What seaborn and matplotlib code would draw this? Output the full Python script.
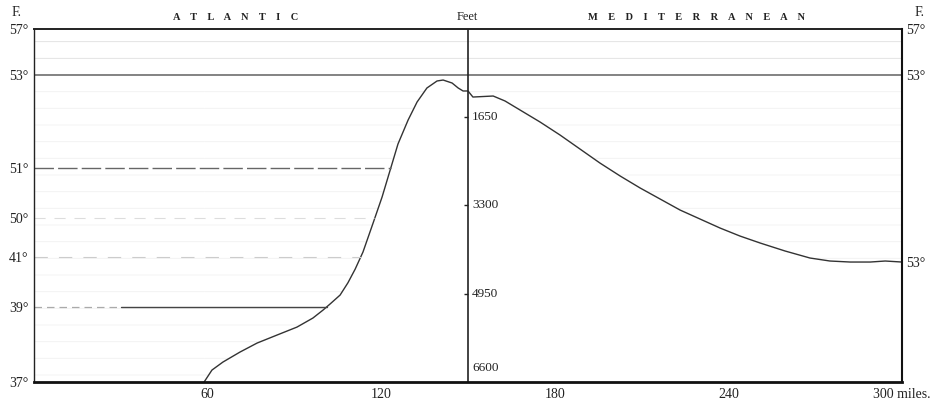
import numpy as np
import pandas as pd
import matplotlib
matplotlib.use("Agg")
import matplotlib.pyplot as plt
import seaborn as sns

# ---- data ----
profile_miles = [58.8, 61.5, 65.3, 71.2, 77.1, 84.0, 90.9, 96.4, 99.9, 102.3, 105.8,
                 108.5, 111.0, 113.7, 117.2, 120.3, 123.1, 125.8, 129.3, 132.4,
                 135.8, 139.3, 141.4, 144.5, 146.6, 148.3, 150.0,
                 151.7, 158.7, 162.8, 168.0, 174.9, 181.8, 188.7, 195.6, 202.6,
                 209.5, 216.4, 223.3, 230.2, 237.1, 244.0, 251.0, 259.6, 268.2,
                 275.1, 282.1, 289.0, 294.2, 300.0]
profile_feet = [6600, 6377, 6227, 6040, 5872, 5722, 5573, 5404, 5255, 5143, 4974,
                4745, 4490, 4170, 3628, 3142, 2637, 2150, 1702, 1365,
                1103, 972, 954, 1010, 1103, 1159, 1159,
                1272, 1253, 1346, 1515, 1739, 1982, 2244, 2506, 2749,
                2973, 3179, 3385, 3553, 3721, 3871, 4002, 4151, 4282,
                4338, 4357, 4357, 4338, 4357]

left_temp_depths = [0, 860, 2600, 3534, 4264, 5199, 6600]
left_temp_labels = ["57°", "53°", "51°", "50°", "41°", "39°", "37°"]
right_temp_depths = [0, 860, 4357]
right_temp_labels = ["57°", "53°", "53°"]

feet_values = [1650, 3300, 4950, 6600]
feet_labels = ["1650", "3300", "4950", "6600"]

mile_ticks = [60, 120, 180, 240, 300]
mile_labels = ["60", "120", "180", "240", "300 miles."]

strait_mile = 150
max_miles = 300
max_feet = 6600
surface_layer = 860

sns.set_theme(style="white")
plt.rcParams["font.family"] = ["Liberation Serif", "DejaVu Serif"]
plt.rcParams["hatch.linewidth"] = 0.6

fig = plt.figure(figsize=(9.51, 4.03), dpi=100)
ax = fig.add_axes([34/951, 1-382/403, (902-34)/951, (382-29)/403])

df = pd.DataFrame({"miles": profile_miles, "feet": profile_feet})

# faint texture of the water
ax.fill_between([0, max_miles], 0, surface_layer, facecolor="none", edgecolor="#dedede",
                hatch="-", linewidth=0)
ax.fill_between(df["miles"], surface_layer, df["feet"], facecolor="none",
                edgecolor="#f1f1f1", hatch="-", linewidth=0)
ax.fill_between([0, df["miles"].iloc[0]], surface_layer, max_feet, facecolor="none",
                edgecolor="#f1f1f1", hatch="-", linewidth=0)

sns.lineplot(data=df, x="miles", y="feet", ax=ax, color="#333333", linewidth=1.0,
             sort=False, estimator=None)

# isotherm lines on the Atlantic side
arr_m = np.array(profile_miles)
arr_f = np.array(profile_feet)
peak = int(np.argmin(arr_f))
asc_m, asc_f = arr_m[:peak+1], arr_f[:peak+1]

def reach(level):
    return float(np.interp(level, asc_f[::-1], asc_m[::-1]))

ax.axhline(surface_layer, color="#7a7a7a", linewidth=1.3)
ax.plot([0, reach(2600)], [2600, 2600], color="#666666", linewidth=1.0, dashes=(14, 3))
ax.plot([0, reach(3534)], [3534, 3534], color="#dddddd", linewidth=0.8, dashes=(10, 8))
ax.plot([0, reach(4264)], [4264, 4264], color="#cccccc", linewidth=0.8, dashes=(12, 10))
ax.plot([0, 30], [5199, 5199], color="#aaaaaa", linewidth=0.9, dashes=(6, 4))
ax.plot([30, reach(5199)], [5199, 5199], color="#444444", linewidth=1.0)

# the strait line (Feet scale)
ax.axvline(strait_mile, color="#222222", linewidth=1.2)
ax.plot([strait_mile]*3, feet_values[:3], linestyle="none", marker=0,
        markersize=3, color="#222222")
for v, lab in zip(feet_values, feet_labels):
    if v == max_feet:
        ax.annotate(lab, (strait_mile, v), xytext=(3, 6), textcoords="offset points",
                    va="bottom", ha="left", fontsize=9.5, color="#222222")
    else:
        ax.annotate(lab, (strait_mile, v), xytext=(3, 0), textcoords="offset points",
                    va="center", ha="left", fontsize=9.5, color="#222222")

ax.set_xlim(0, max_miles)
ax.set_ylim(max_feet, 0)
ax.set_xticks(mile_ticks)
ax.set_xticklabels(mile_labels)
ax.set_yticks(left_temp_depths)
ax.set_yticklabels(left_temp_labels)
ax.tick_params(axis="both", length=0, labelsize=10, colors="#222222")
ax.tick_params(axis="x", pad=4)
ax.tick_params(axis="y", pad=4)
ax.set_xlabel("")
ax.set_ylabel("")

ax2 = ax.twinx()
ax2.set_ylim(max_feet, 0)
ax2.set_yticks(right_temp_depths)
ax2.set_yticklabels(right_temp_labels)
ax2.tick_params(axis="y", length=0, labelsize=10, pad=3, colors="#222222")
ax2.grid(False)

for a in (ax, ax2):
    for s in a.spines.values():
        s.set_visible(False)
ax.spines["left"].set_visible(True)
ax.spines["left"].set_color("#222222")
ax.spines["left"].set_linewidth(1.0)
ax.spines["bottom"].set_visible(True)
ax.spines["bottom"].set_color("#111111")
ax.spines["bottom"].set_linewidth(2.0)
ax.spines["top"].set_visible(True)
ax.spines["top"].set_color("#222222")
ax.spines["top"].set_linewidth(1.4)
ax2.spines["right"].set_visible(True)
ax2.spines["right"].set_color("#111111")
ax2.spines["right"].set_linewidth(1.5)
ax.grid(False)

# headings
fig.text(17/951, 1-13/403, "F.", ha="center", va="center", fontsize=10, color="#222222")
fig.text(920/951, 1-13/403, "F.", ha="center", va="center", fontsize=10, color="#222222")
fig.text(236/951, 1-18/403, "A    T    L    A    N    T    I    C", ha="center",
         va="center", fontsize=7.5, fontweight="bold", color="#222222")
fig.text(467/951, 1-17/403, "Feet", ha="center", va="center", fontsize=9, color="#222222")
fig.text(696/951, 1-17/403, "M    E    D    I    T    E    R    R    A    N    E    A    N",
         ha="center", va="center", fontsize=7.5, fontweight="bold", color="#222222")

fig.savefig("out.png", dpi=100)
